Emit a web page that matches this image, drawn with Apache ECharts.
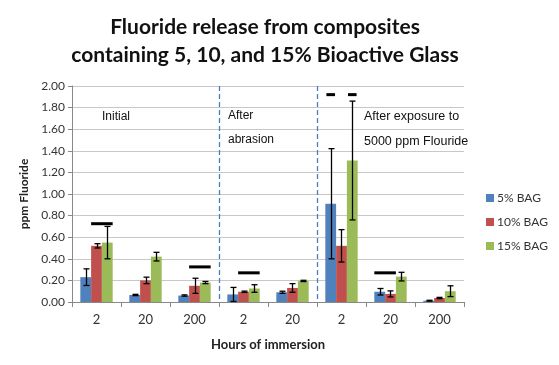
<!DOCTYPE html>
<html><head><meta charset="utf-8">
<script src="https://cdn.jsdelivr.net/npm/echarts@6/dist/echarts.min.js"></script>
<style>html,body{margin:0;padding:0;background:#fff}#c{width:559px;height:365px}</style>
</head><body><div id="c"></div>
<script>
// ---- data ----
var categories = ['2', '20', '200', '2', '20', '2', '20', '200'];
var seriesNames = ['5% BAG', '10% BAG', '15% BAG'];
var bag5  = [0.23, 0.065, 0.06, 0.07, 0.09, 0.91, 0.095, 0.012];
var bag10 = [0.52, 0.20, 0.15, 0.095, 0.13, 0.52, 0.075, 0.037];
var bag15 = [0.55, 0.42, 0.18, 0.125, 0.195, 1.31, 0.235, 0.10];
var err5  = [0.077, 0.006, 0.006, 0.065, 0.01, 0.51, 0.03, 0.004];
var err10 = [0.02, 0.03, 0.07, 0.006, 0.04, 0.15, 0.028, 0.006];
var err15 = [0.15, 0.04, 0.01, 0.035, 0.006, 0.55, 0.04, 0.05];
// significance bars: [category, value, fromBar, toBar, shrink]
var sigLines = [[0, 0.725, 1, 2, 0], [2, 0.325, 1, 2, 0], [3, 0.27, 1, 2, 0],
                [5, 1.92, 0, 0, 0.1], [5, 1.92, 2, 2, 0.1], [6, 0.27, 0, 1, 0]];
// dividers after these category indices
var dividers = [2, 4];
var yTicks = { min: 0, max: 2, interval: 0.2 };

var colors = ['#4F81BD', '#C0504D', '#9BBB59'];
var gapPct = 0.34;
var values = [bag5, bag10, bag15];
var errs = [err5, err10, err15];

function barGeom(api, cat, bar) {
  var band = api.size([1, 0])[0];
  var bw = band * (1 - gapPct) / 3;
  var cx = api.coord([cat, 0])[0];
  return { left: cx - 1.5 * bw + bar * bw, width: bw };
}

var errData = [];
for (var s = 0; s < 3; s++) for (var i = 0; i < categories.length; i++)
  errData.push([i, values[s][i], errs[s][i], s]);

var series = [];
for (var s2 = 0; s2 < 3; s2++) {
  series.push({ name: seriesNames[s2], type: 'bar', data: values[s2], barGap: '0%',
    barCategoryGap: (gapPct * 100) + '%', itemStyle: { color: colors[s2] }, z: 2 });
}
series.push({
  type: 'custom', z: 5, silent: true, data: errData, encode: { x: 0, y: 1 },
  renderItem: function (params, api) {
    var cat = api.value(0), v = api.value(1), e = api.value(2), b = api.value(3);
    var g = barGeom(api, cat, b);
    var x = Math.round(g.left + g.width / 2) + 0.5;
    var yT = api.coord([cat, v + e])[1], yB = api.coord([cat, Math.max(0, v - e)])[1];
    var cap = 3;
    var st = { stroke: '#000', lineWidth: 1.3 };
    return { type: 'group', children: [
      { type: 'line', shape: { x1: x, y1: yT, x2: x, y2: yB }, style: st },
      { type: 'line', shape: { x1: x - cap, y1: yT, x2: x + cap, y2: yT }, style: st },
      { type: 'line', shape: { x1: x - cap, y1: yB, x2: x + cap, y2: yB }, style: st }
    ]};
  }
});
series.push({
  type: 'custom', z: 6, silent: true, data: sigLines, encode: { x: 0, y: 1 },
  renderItem: function (params, api) {
    var cat = api.value(0), v = api.value(1), f = api.value(2), t = api.value(3), sh = api.value(4);
    var g1 = barGeom(api, cat, f), g2 = barGeom(api, cat, t);
    var x1 = g1.left + g1.width * sh, x2 = g2.left + g2.width * (1 - sh);
    var y = api.coord([cat, v])[1];
    return { type: 'line', shape: { x1: x1, y1: y, x2: x2, y2: y }, style: { stroke: '#000', lineWidth: 3 } };
  }
});
series.push({
  type: 'custom', z: 4, silent: true, data: dividers.map(function (d) { return [d, yTicks.max]; }), encode: { x: 0, y: 1 },
  renderItem: function (params, api) {
    var d = api.value(0);
    var x = Math.round(api.coord([d, 0])[0] + api.size([1, 0])[0] / 2) + 0.5;
    var y1 = api.coord([d, yTicks.max])[1], y2 = api.coord([d, 0])[1];
    return { type: 'line', shape: { x1: x, y1: y1, x2: x, y2: y2 },
      style: { stroke: '#4A7EBB', lineWidth: 1.3, lineDash: [5, 3] } };
  }
});

var chart = echarts.init(document.getElementById('c'), null, { renderer: 'canvas' });
chart.setOption({
  animation: false,
  backgroundColor: '#fff',
  title: { text: 'Fluoride release from composites\ncontaining 5, 10, and 15% Bioactive Glass',
    left: 260, top: 8, textAlign: 'center',
    textStyle: { fontFamily: 'Lato', fontWeight: 'bold', fontSize: 21, lineHeight: 28, color: '#111' } },
  legend: { data: seriesNames, orient: 'vertical', left: 481, top: 187, itemWidth: 8, itemHeight: 8,
    itemGap: 12, icon: 'rect',
    textStyle: { fontFamily: 'Lato', fontSize: 12, color: '#333', padding: [0, 0, 0, -2] } },
  grid: { left: 72, right: 95, top: 86, bottom: 63 },
  xAxis: { type: 'category', data: categories, name: 'Hours of immersion', nameLocation: 'middle', nameGap: 36,
    nameTextStyle: { fontFamily: 'Lato', fontWeight: 'bold', fontSize: 13, color: '#222' },
    axisLine: { lineStyle: { color: '#888' } },
    axisTick: { show: true, length: 5, lineStyle: { color: '#888' } },
    axisLabel: { fontFamily: 'Lato', fontSize: 13, color: '#333', margin: 11 } },
  yAxis: { type: 'value', min: yTicks.min, max: yTicks.max, interval: yTicks.interval,
    name: 'ppm Fluoride', nameLocation: 'middle', nameGap: 42,
    nameTextStyle: { fontFamily: 'Lato', fontWeight: 'bold', fontSize: 12, color: '#222' },
    axisLine: { show: true, lineStyle: { color: '#888' } },
    axisTick: { show: true, length: 4, lineStyle: { color: '#888' } },
    splitLine: { lineStyle: { color: '#C8C8C8' } },
    axisLabel: { fontFamily: 'Lato', fontSize: 12, color: '#333', margin: 7,
      formatter: function (v) { return v.toFixed(2); } } },
  graphic: [
    { type: 'text', left: 102, top: 111, style: { text: 'Initial', font: '12px "Liberation Sans"', fill: '#111' } },
    { type: 'text', left: 228, top: 110, style: { text: 'After\n\nabrasion', font: '12px "Liberation Sans"', lineHeight: 12, fill: '#111' } },
    { type: 'text', left: 364, top: 110, style: { text: 'After exposure to\n\n5000 ppm Flouride', font: '12.5px "Liberation Sans"', lineHeight: 12.5, fill: '#111' } }
  ],
  series: series
});
</script></body></html>
